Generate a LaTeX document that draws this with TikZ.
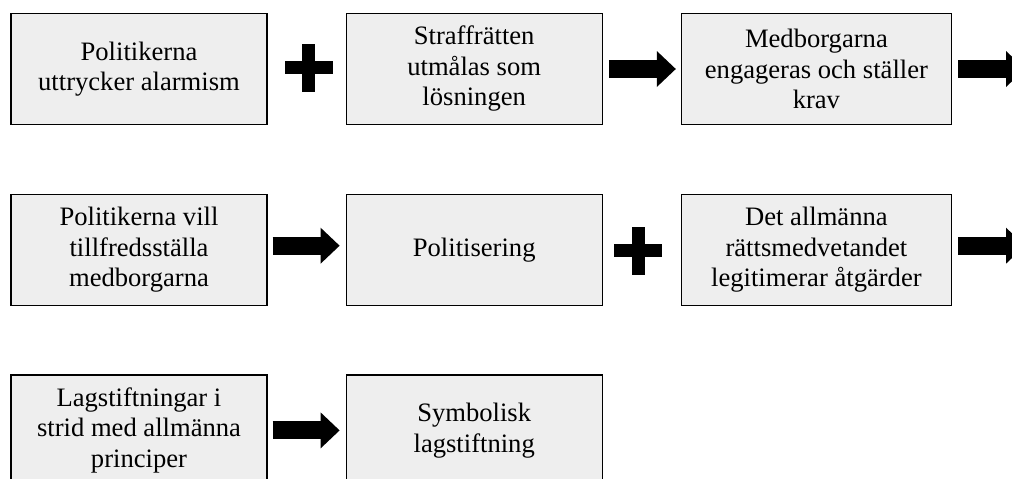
\documentclass[tikz,border=0pt]{standalone}
\usepackage{fontspec}
\setmainfont{Liberation Serif}
\usetikzlibrary{arrows.meta, positioning, calc}
\definecolor{boxgray}{HTML}{EEEEEE}

\tikzset{
  stepbox/.style={draw=black, line width=1.2pt, fill=boxgray,
    minimum width=256pt, minimum height=111pt, align=center, inner sep=4pt,
    font=\fontsize{26.6}{30.5}\selectfont},
  widebox/.style={stepbox, minimum width=270pt},
  fatarrow/.style={line width=18pt,
    -{Triangle[length=19pt, width=36pt, line width=0pt]}},
}
\newcommand{\plusmark}[1]{%
  \fill ($(#1)+(-24,-6.5)$) rectangle ($(#1)+(24,6.5)$);
  \fill ($(#1)+(-6.5,-24)$) rectangle ($(#1)+(6.5,24)$);}

\begin{document}
\begin{tikzpicture}[x=1pt, y=-1pt, node distance=68.5pt and 78pt]
  \useasboundingbox (0,0) rectangle (1012,479);
  % row 1
  \node[stepbox] (alarm) at (139,69) {Politikerna\\uttrycker alarmism};
  \node[stepbox, right=of alarm] (straff) {Straffrätten\\utmålas som\\lösningen};
  \node[widebox, right=of straff] (krav) {Medborgarna\\engageras och ställer\\krav};
  % row 2
  \node[stepbox, below=of alarm] (tillfreds) {Politikerna vill\\tillfredsställa\\medborgarna};
  \node[stepbox, right=of tillfreds] (politis) {Politisering};
  \node[widebox, right=of politis] (allman) {Det allmänna\\rättsmedvetandet\\legitimerar åtgärder};
  % row 3
  \node[stepbox, below=of tillfreds] (strid) {Lagstiftningar i\\strid med allmänna\\principer};
  \node[stepbox, right=of strid] (symbol) {Symbolisk\\lagstiftning};

  % plus signs
  \coordinate (plusA) at ($(alarm.east)!0.5!(straff.west)+(2,-1.5)$);
  \coordinate (plusB) at ($(politis.east)!0.5!(allman.west)+(-3.5,1)$);
  \plusmark{plusA}
  \plusmark{plusB}

  % block arrows
  \coordinate (kravout) at ([xshift=73pt]krav.east);
  \coordinate (allmanout) at ([xshift=73pt,yshift=4pt]allman.east);
  \draw[fatarrow] ([xshift=6pt]straff.east) -- ([xshift=-5pt]krav.west);
  \draw[fatarrow] ([xshift=6pt]krav.east) -- (kravout);
  \draw[fatarrow] ([xshift=5pt,yshift=4pt]tillfreds.east) -- ([xshift=-6pt,yshift=4pt]politis.west);
  \draw[fatarrow] ([xshift=6pt,yshift=4pt]allman.east) -- (allmanout);
  \draw[fatarrow] ([xshift=5pt]strid.east) -- ([xshift=-6pt]symbol.west);
\end{tikzpicture}
\end{document}
